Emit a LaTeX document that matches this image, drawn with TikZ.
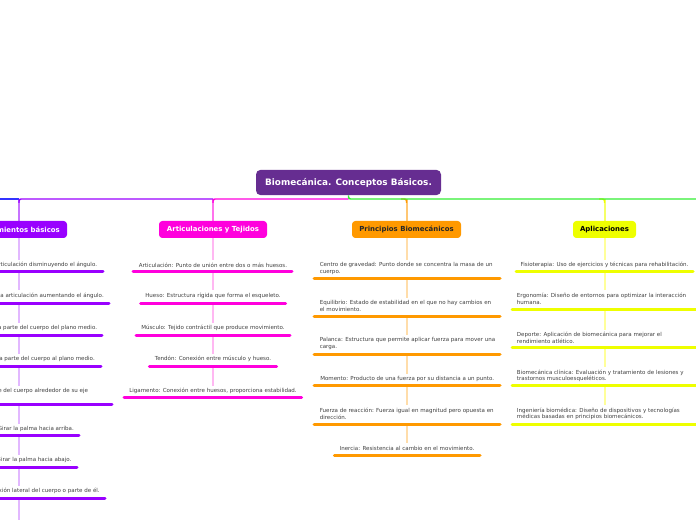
\documentclass[tikz,border=0pt]{standalone}
\usepackage{fontspec}
\setmainfont{DejaVu Sans}
\usetikzlibrary{backgrounds}
\definecolor{rootc}{HTML}{662D91}
\definecolor{vio}{HTML}{9900FF}
\definecolor{viol}{HTML}{E2B8FF}
\definecolor{mag}{HTML}{FF00DD}
\definecolor{magl}{HTML}{FFB8F2}
\definecolor{ora}{HTML}{FF9900}
\definecolor{oral}{HTML}{FFDDAA}
\definecolor{yel}{HTML}{EEFF00}
\definecolor{yell}{HTML}{FFFF99}
\definecolor{blu}{HTML}{3333FF}
\definecolor{grn}{HTML}{33EE33}
\definecolor{txt}{HTML}{404040}
\begin{document}
\begin{tikzpicture}[x=0.75pt,y=-0.75pt,
  leaf/.style={font=\fontsize{4.15}{5}\selectfont, text=txt, inner sep=0pt, outer ysep=2pt, align=left},
  topic/.style={rounded corners=2.5pt, minimum height=12.75pt, inner sep=0pt, font=\fontsize{5.2}{6}\selectfont\bfseries},
  rootbox/.style={fill=rootc, text=white, rounded corners=3.5pt, minimum width=138.75pt, minimum height=19pt, inner sep=0pt, font=\fontsize{6.65}{8}\selectfont\bfseries},
  ul/.style={line width=2.25pt, line cap=round},
  conn/.style={line width=1.5pt},
  hline/.style={line width=1.1pt, rounded corners=1.5pt},
]
\useasboundingbox (0,0) rectangle (696,520);

% root and topics
\node[rootbox] (root) at (348.5,182.5) {Biomecánica. Conceptos Básicos.};
\coordinate (hy) at (348.5,199);
\node[topic, fill=vio, text=white, minimum width=72pt] (t1) at (19,229.5) {Movimientos básicos};
\node[topic, fill=mag, text=white, minimum width=81pt] (t2) at (213,229.5) {Articulaciones y Tejidos};
\node[topic, fill=ora, text=black!85, minimum width=81.75pt] (t3) at (406.5,229.5) {Principios Biomecánicos};
\node[topic, fill=yel, text=black, minimum width=47.25pt] (t4) at (604.5,229.5) {Aplicaciones};

% column 1
\node[leaf, anchor=east] (a1) at (97.3,265) {Flexión: Doblar una articulación disminuyendo el ángulo.};
\node[leaf, anchor=east] (a2) at (104,295.7) {Extensión: Estirar una articulación aumentando el ángulo.};
\node[leaf, anchor=east] (a3) at (97.3,328) {Abducción: Alejar una parte del cuerpo del plano medio.};
\node[leaf, anchor=east] (a4) at (95,359) {Aducción: Acercar una parte del cuerpo al plano medio.};
\node[leaf, anchor=east] (a5) at (88.3,391) {Rotación: Girar una parte del cuerpo alrededor de su eje};
\node[leaf, anchor=east] (a6) at (74,429) {Supinación: Girar la palma hacia arriba.};
\node[leaf, anchor=east] (a7) at (71.7,460) {Pronación: Girar la palma hacia abajo.};
\node[leaf, anchor=east] (a8) at (100,491) {Inclinación: Flexión lateral del cuerpo o parte de él.};
\coordinate (u1) at (19,271.7);
\coordinate (u2) at (19,303.3);
\coordinate (u3) at (19,335);
\coordinate (u4) at (19,366.7);
\coordinate (u5) at (19,404.3);
\coordinate (u6) at (19,435.7);
\coordinate (u7) at (19,467.3);
\coordinate (u8) at (19,498.5);
\coordinate (uend) at (19,525);

% column 2
\node[leaf] (b1) at (213,265) {Articulación: Punto de unión entre dos o más huesos.};
\node[leaf] (b2) at (213,295.7) {Hueso: Estructura rígida que forma el esqueleto.};
\node[leaf] (b3) at (213,328) {Músculo: Tejido contráctil que produce movimiento.};
\node[leaf] (b4) at (213,359) {Tendón: Conexión entre músculo y hueso.};
\node[leaf] (b5) at (213,391) {Ligamento: Conexión entre huesos, proporciona estabilidad.};
\coordinate (v1) at (213,272);
\coordinate (v2) at (213,303.3);
\coordinate (v3) at (213,335);
\coordinate (v4) at (213,366.7);

% column 3
\node[leaf, anchor=west] (c1) at (319.5,268.3) {Centro de gravedad: Punto donde se concentra la masa de un\\cuerpo.};
\node[leaf, anchor=west] (c2) at (319.5,305.7) {Equilibrio: Estado de estabilidad en el que no hay cambios en\\el movimiento.};
\node[leaf, anchor=west] (c3) at (319.5,343.7) {Palanca: Estructura que permite aplicar fuerza para mover una\\carga.};
\node[leaf, anchor=west] (c4) at (320,379.3) {Momento: Producto de una fuerza por su distancia a un punto.};
\node[leaf, anchor=west] (c5) at (319.5,413.7) {Fuerza de reacción: Fuerza igual en magnitud pero opuesta en\\dirección.};
\node[leaf] (c6) at (407,448.3) {Inercia: Resistencia al cambio en el movimiento.};
\coordinate (w1) at (407,278.7);
\coordinate (w2) at (407,316.7);
\coordinate (w3) at (407,354.3);
\coordinate (w4) at (407,385.7);
\coordinate (w5) at (407,424);

% column 4
\node[leaf] (d1) at (604.5,265) {Fisioterapia: Uso de ejercicios y técnicas para rehabilitación.};
\node[leaf, anchor=west] (d2) at (516.7,298.7) {Ergonomía: Diseño de entornos para optimizar la interacción\\humana.};
\node[leaf, anchor=west] (d3) at (516.7,338) {Deporte: Aplicación de biomecánica para mejorar el\\rendimiento atlético.};
\node[leaf, anchor=west] (d4) at (516.7,375.7) {Biomecánica clínica: Evaluación y tratamiento de lesiones y\\trastornos musculoesqueléticos.};
\node[leaf, anchor=west] (d5) at (516.7,413.7) {Ingeniería biomédica: Diseño de dispositivos y tecnologías\\médicas basadas en principios biomecánicos.};
\coordinate (z1) at (604.5,271.7);
\coordinate (z2) at (604.5,310);
\coordinate (z3) at (604.5,347.7);
\coordinate (z4) at (604.5,385.3);

\begin{scope}[on background layer]
  % verticals from the main line to the topics
  \draw[conn, vio!55] (t1.north) -- (t1.north |- hy);
  \draw[conn, mag!55] (t2.north) -- (t2.north |- hy);
  \draw[conn, ora!55] (t3.north) -- (t3.north |- hy);
  \draw[conn, yel!60] (t4.north) -- (t4.north |- hy);
  % main branches (non-overlapping segments)
  \draw[hline, blu] (t1.north |- hy) -- (-20,199);
  \draw[hline, vio] (t2.north |- hy) -- (t1.north |- hy) -- ([yshift=-3pt]t1.north |- hy);
  \draw[hline, mag] (hy) -- (t2.north |- hy) -- ([yshift=-3pt]t2.north |- hy);
  \draw[hline, ora] ([xshift=-4pt]t3.north |- hy) -- (t3.north |- hy) -- ([yshift=-3pt]t3.north |- hy);
  \draw[hline, yel] ([xshift=-4pt]t4.north |- hy) -- (t4.north |- hy) -- ([yshift=-3pt]t4.north |- hy);
  \draw[hline, grn] (root.south) -- (hy) -- (720,199);
  % column 1 connectors
  \draw[conn, viol] (t1.south) -- (t1.south |- a1.north);
  \draw[conn, viol] (u1) -- (u1 |- a2.north);
  \draw[conn, viol] (u2) -- (u2 |- a3.north);
  \draw[conn, viol] (u3) -- (u3 |- a4.north);
  \draw[conn, viol] (u4) -- (u4 |- a5.north);
  \draw[conn, viol] (u5) -- (u5 |- a6.north);
  \draw[conn, viol] (u6) -- (u6 |- a7.north);
  \draw[conn, viol] (u7) -- (u7 |- a8.north);
  \draw[conn, viol] (u8) -- (uend);
  % column 2 connectors
  \draw[conn, magl] (t2.south) -- (b1.north);
  \draw[conn, magl] (v1) -- (b2.north);
  \draw[conn, magl] (v2) -- (b3.north);
  \draw[conn, magl] (v3) -- (b4.north);
  \draw[conn, magl] (v4) -- (b5.north);
  % column 3 connectors
  \draw[conn, oral] ([xshift=0.4pt]t3.south) -- ([xshift=0.4pt]t3.south |- c1.north);
  \draw[conn, oral] (w1) -- (w1 |- c2.north);
  \draw[conn, oral] (w2) -- (w2 |- c3.north);
  \draw[conn, oral] (w3) -- (w3 |- c4.north);
  \draw[conn, oral] (w4) -- (w4 |- c5.north);
  \draw[conn, oral] (w5) -- (c6.north);
  % column 4 connectors
  \draw[conn, yell] (t4.south) -- (d1.north);
  \draw[conn, yell] (z1) -- (z1 |- d2.north);
  \draw[conn, yell] (z2) -- (z2 |- d3.north);
  \draw[conn, yell] (z3) -- (z3 |- d4.north);
  \draw[conn, yell] (z4) -- (z4 |- d5.north);
\end{scope}

% underlines
\draw[ul, vio] (-65,271.7) -- (103,271.7);
\draw[ul, vio] (-71,303.3) -- (109,303.3);
\draw[ul, vio] (-64,335) -- (102,335);
\draw[ul, vio] (-63,366.7) -- (101,366.7);
\draw[ul, vio] (-74,404.3) -- (112,404.3);
\draw[ul, vio] (-41,435.7) -- (79,435.7);
\draw[ul, vio] (-39,467.3) -- (77,467.3);
\draw[ul, vio] (-67,498.5) -- (105,498.5);

\draw[ul, mag] (133,272) -- (292,272);
\draw[ul, mag] (140.7,303.3) -- (285.7,303.3);
\draw[ul, mag] (136,335) -- (290,335);
\draw[ul, mag] (149.3,366.7) -- (276.7,366.7);
\draw[ul, mag] (124,397.7) -- (301.7,397.7);

\draw[ul, ora] (314,278.7) -- (500,278.7);
\draw[ul, ora] (314,316.7) -- (500,316.7);
\draw[ul, ora] (314,354.3) -- (500,354.3);
\draw[ul, ora] (314,385.7) -- (500,385.7);
\draw[ul, ora] (314,424) -- (500,424);
\draw[ul, ora] (334.3,455.7) -- (480,455.7);

\draw[ul, yel] (516,271.7) -- (693,271.7);
\draw[ul, yel] (512,310) -- (697,310);
\draw[ul, yel] (512,347.7) -- (697,347.7);
\draw[ul, yel] (512,385.3) -- (697,385.3);
\draw[ul, yel] (512,424) -- (697,424);
\end{tikzpicture}
\end{document}
